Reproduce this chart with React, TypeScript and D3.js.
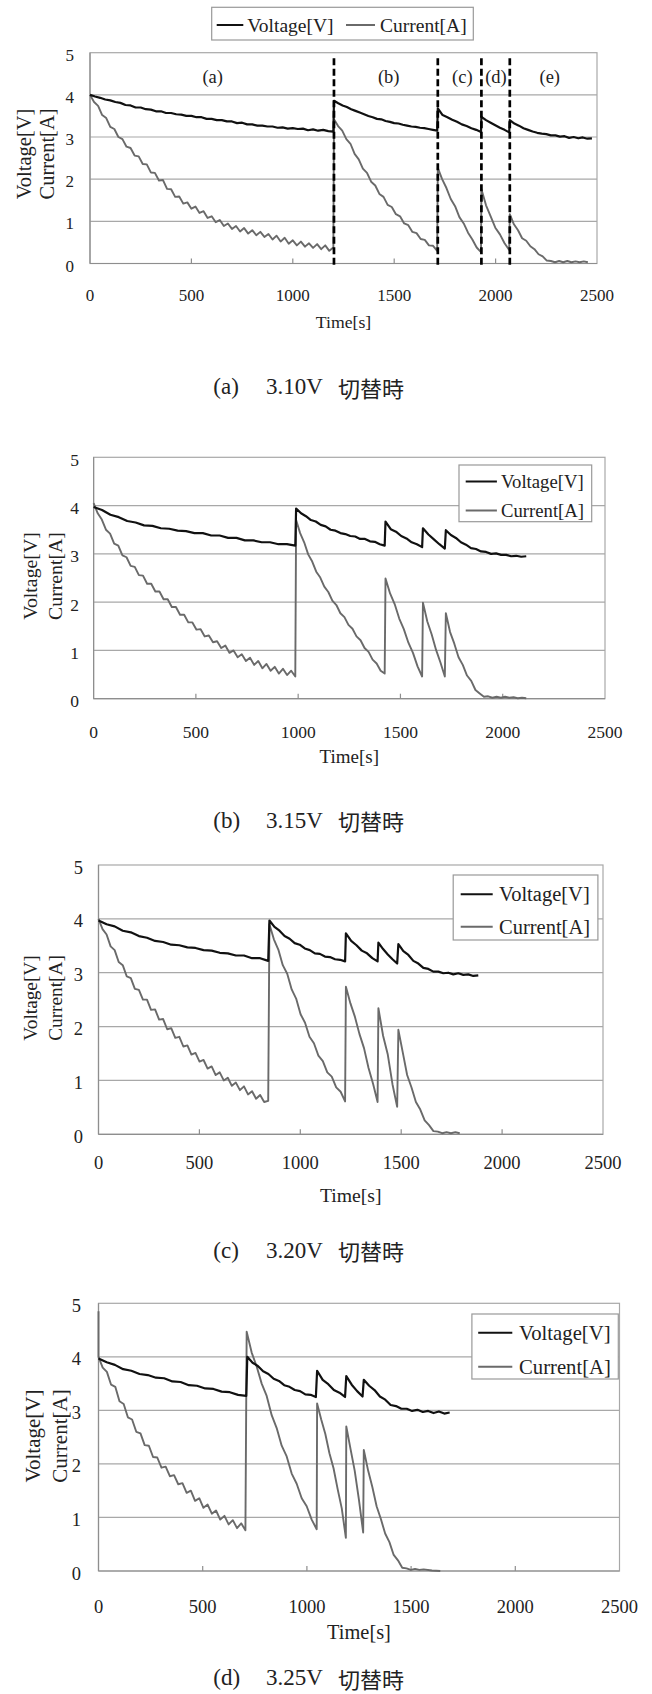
import React from "react";
import * as d3 from "d3";

type Seg = [number, number, number[]];

// ---------- common ----------
const X_TICKS = [0, 500, 1000, 1500, 2000, 2500];
const Y_TICKS = [0, 1, 2, 3, 4, 5];
const SERIES = ["Voltage[V]", "Current[A]"];
const X_TITLE = "Time[s]";
const Y_TITLE = ["Voltage[V]", "Current[A]"];
const CAPTION_TAGS = ["(a)", "(b)", "(c)", "(d)"];
const CAPTION_VOLTS = ["3.10V", "3.15V", "3.20V", "3.25V"];
const CAPTION_WORD = "切替時";

// ---------- panel (a) 3.10V ----------
const A_SWITCH = [1203, 1715, 1930, 2070];
const A_REGION_T = [605, 1473, 1836, 2002, 2267];
const A_REGION_LABELS = ["(a)", "(b)", "(c)", "(d)", "(e)"];
const A_VOLT: Seg[] = [
  [0, 1200, [4.0, 3.96, 3.93, 3.89, 3.87, 3.83, 3.81, 3.76, 3.75, 3.7, 3.7, 3.66, 3.65, 3.61, 3.61, 3.57, 3.57, 3.54, 3.53, 3.5, 3.5, 3.47, 3.47, 3.43, 3.43, 3.4, 3.4, 3.37, 3.37, 3.33, 3.34, 3.3, 3.3, 3.27, 3.27, 3.25, 3.25, 3.22, 3.23, 3.2, 3.21, 3.19, 3.2, 3.16, 3.18, 3.15, 3.17, 3.14, 3.13]],
  [1203, 1712, [3.86, 3.8, 3.75, 3.71, 3.66, 3.62, 3.58, 3.54, 3.5, 3.47, 3.43, 3.42, 3.38, 3.36, 3.33, 3.32, 3.29, 3.27, 3.25, 3.24, 3.22, 3.21, 3.19, 3.17, 3.15]],
  [1715, 1928, [3.68, 3.52, 3.47, 3.41, 3.36, 3.3, 3.26, 3.21, 3.17, 3.12]],
  [1930, 2067, [3.48, 3.4, 3.34, 3.28, 3.22, 3.17, 3.11]],
  [2070, 2475, [3.4, 3.32, 3.27, 3.21, 3.17, 3.13, 3.1, 3.08, 3.07, 3.04, 3.04, 3.01, 3.02, 2.98, 3.0, 2.97, 2.99, 2.96, 2.97]],
];
const A_CURR: Seg[] = [
  [0, 1200, [4.0, 3.83, 3.74, 3.52, 3.45, 3.24, 3.19, 3.0, 2.95, 2.77, 2.74, 2.56, 2.54, 2.36, 2.35, 2.16, 2.15, 1.97, 1.98, 1.77, 1.76, 1.58, 1.59, 1.42, 1.45, 1.3, 1.35, 1.2, 1.24, 1.08, 1.12, 0.98, 1.03, 0.89, 0.95, 0.82, 0.89, 0.76, 0.84, 0.71, 0.79, 0.67, 0.75, 0.63, 0.7, 0.57, 0.66, 0.52, 0.61, 0.47, 0.55, 0.43, 0.52, 0.4, 0.48, 0.37, 0.46, 0.34, 0.43, 0.3, 0.38]],
  [1203, 1712, [3.42, 3.26, 3.15, 2.95, 2.84, 2.6, 2.47, 2.25, 2.15, 1.94, 1.85, 1.65, 1.58, 1.39, 1.34, 1.17, 1.12, 0.95, 0.91, 0.75, 0.72, 0.58, 0.56, 0.43, 0.42, 0.3]],
  [1715, 1928, [2.27, 2.0, 1.79, 1.53, 1.36, 1.1, 0.95, 0.73, 0.57, 0.38, 0.27]],
  [1930, 2067, [1.76, 1.38, 1.12, 0.85, 0.69, 0.48, 0.32]],
  [2070, 2455, [1.17, 0.93, 0.79, 0.6, 0.54, 0.41, 0.34, 0.22, 0.17, 0.07, 0.06, 0.03, 0.06, 0.03, 0.06, 0.03, 0.05, 0.03, 0.05, 0.03]],
];

// ---------- panel (b) 3.15V ----------
const B_VOLT: Seg[] = [
  [0, 986, [3.97, 3.91, 3.81, 3.76, 3.68, 3.65, 3.59, 3.58, 3.53, 3.52, 3.48, 3.47, 3.43, 3.43, 3.38, 3.38, 3.33, 3.33, 3.28, 3.28, 3.24, 3.24, 3.2, 3.2, 3.17]],
  [990, 1423, [3.94, 3.84, 3.78, 3.7, 3.67, 3.6, 3.57, 3.5, 3.48, 3.43, 3.41, 3.37, 3.36, 3.31, 3.31, 3.26, 3.25, 3.2, 3.17]],
  [1427, 1606, [3.67, 3.51, 3.46, 3.37, 3.32, 3.24, 3.2, 3.14]],
  [1610, 1717, [3.53, 3.4, 3.3, 3.2, 3.11]],
  [1722, 2115, [3.49, 3.39, 3.33, 3.24, 3.19, 3.12, 3.1, 3.05, 3.04, 3.0, 3.01, 2.98, 2.98, 2.95, 2.96, 2.94, 2.95]],
];
const B_CURR: Seg[] = [
  [0, 986, [4.05, 3.84, 3.71, 3.5, 3.42, 3.21, 3.17, 2.97, 2.93, 2.75, 2.73, 2.56, 2.55, 2.38, 2.38, 2.22, 2.22, 2.06, 2.06, 1.9, 1.9, 1.74, 1.74, 1.58, 1.58, 1.43, 1.44, 1.29, 1.31, 1.17, 1.19, 1.05, 1.1, 0.95, 1.0, 0.86, 0.92, 0.78, 0.85, 0.7, 0.78, 0.63, 0.72, 0.58, 0.66, 0.52, 0.62, 0.49, 0.58, 0.46]],
  [990, 1423, [3.7, 3.43, 3.24, 2.99, 2.84, 2.63, 2.51, 2.32, 2.21, 2.03, 1.94, 1.77, 1.69, 1.53, 1.45, 1.29, 1.21, 1.05, 0.97, 0.81, 0.73, 0.58, 0.52]],
  [1427, 1606, [2.49, 2.18, 1.96, 1.66, 1.44, 1.16, 0.95, 0.67, 0.46]],
  [1610, 1717, [1.99, 1.6, 1.33, 1.01, 0.75, 0.46]],
  [1722, 2115, [1.77, 1.38, 1.14, 0.86, 0.7, 0.48, 0.37, 0.18, 0.11, 0.04, 0.05, 0.02, 0.04, 0.02, 0.04, 0.02, 0.03, 0.01, 0.02, 0.01]],
];

// ---------- panel (c) 3.20V ----------
const C_VOLT: Seg[] = [
  [0, 841, [3.97, 3.9, 3.86, 3.78, 3.75, 3.68, 3.65, 3.59, 3.57, 3.52, 3.51, 3.47, 3.46, 3.42, 3.41, 3.37, 3.36, 3.32, 3.32, 3.27, 3.27, 3.22]],
  [847, 1222, [3.97, 3.85, 3.78, 3.68, 3.63, 3.55, 3.52, 3.45, 3.42, 3.36, 3.35, 3.3, 3.29, 3.25, 3.24, 3.21]],
  [1226, 1383, [3.73, 3.59, 3.51, 3.41, 3.36, 3.27, 3.21]],
  [1387, 1480, [3.56, 3.44, 3.34, 3.25, 3.17]],
  [1486, 1882, [3.53, 3.4, 3.33, 3.22, 3.17, 3.09, 3.07, 3.02, 3.02, 2.99, 3.0, 2.97, 2.99, 2.96, 2.97, 2.94, 2.95]],
];
const C_CURR: Seg[] = [
  [0, 841, [4.0, 3.81, 3.71, 3.49, 3.42, 3.2, 3.14, 2.93, 2.9, 2.7, 2.68, 2.5, 2.5, 2.31, 2.32, 2.13, 2.14, 1.95, 1.97, 1.79, 1.81, 1.63, 1.65, 1.48, 1.51, 1.35, 1.38, 1.22, 1.26, 1.1, 1.15, 1.0, 1.05, 0.9, 0.96, 0.82, 0.89, 0.74, 0.8, 0.66, 0.73, 0.6, 0.62]],
  [847, 1222, [3.9, 3.62, 3.43, 3.14, 2.98, 2.69, 2.52, 2.23, 2.07, 1.81, 1.69, 1.46, 1.36, 1.15, 1.07, 0.87, 0.79, 0.61]],
  [1226, 1383, [2.74, 2.43, 2.18, 1.86, 1.6, 1.23, 0.94, 0.6]],
  [1387, 1480, [2.34, 1.83, 1.48, 0.93, 0.51]],
  [1486, 1790, [1.94, 1.52, 1.1, 0.87, 0.6, 0.46, 0.26, 0.17, 0.06, 0.05, 0.02, 0.04, 0.02, 0.04, 0.02]],
];

// ---------- panel (d) 3.25V ----------
const D_VOLT: Seg[] = [
  [0, 709, [3.97, 3.9, 3.85, 3.77, 3.74, 3.68, 3.66, 3.61, 3.6, 3.54, 3.53, 3.47, 3.46, 3.41, 3.4, 3.35, 3.34, 3.29, 3.27]],
  [714, 1043, [4.0, 3.89, 3.83, 3.73, 3.68, 3.59, 3.55, 3.47, 3.44, 3.38, 3.36, 3.3, 3.29, 3.25]],
  [1049, 1183, [3.74, 3.57, 3.49, 3.38, 3.33, 3.25]],
  [1189, 1267, [3.64, 3.48, 3.36, 3.26]],
  [1273, 1685, [3.57, 3.46, 3.38, 3.26, 3.2, 3.1, 3.08, 3.03, 3.03, 2.99, 3.01, 2.97, 2.99, 2.95, 2.98, 2.94, 2.96]],
];
const D_CURR: Seg[] = [
  [0, 0, [4.85]],
  [0, 705, [4.0, 3.8, 3.72, 3.48, 3.44, 3.17, 3.12, 2.87, 2.83, 2.6, 2.57, 2.35, 2.34, 2.13, 2.12, 1.93, 1.95, 1.77, 1.79, 1.62, 1.64, 1.46, 1.5, 1.31, 1.36, 1.18, 1.24, 1.07, 1.13, 0.96, 1.03, 0.87, 0.95, 0.8, 0.89, 0.76]],
  [711, 1047, [4.47, 4.08, 3.82, 3.5, 3.27, 2.91, 2.67, 2.34, 2.14, 1.82, 1.63, 1.36, 1.21, 0.96, 0.78]],
  [1049, 1187, [3.13, 2.83, 2.56, 2.2, 1.92, 1.53, 1.17, 0.62]],
  [1189, 1270, [2.7, 2.28, 1.87, 1.33, 0.72]],
  [1273, 1560, [2.26, 1.88, 1.57, 1.21, 0.97, 0.7, 0.54, 0.3, 0.2, 0.06, 0.05, 0.02, 0.04, 0.02, 0.03]],
  [1600, 1640, [0.01, 0.0]],
];

// ---------- layout ----------
const FONT = "'Liberation Serif', 'Times New Roman', serif";
const CJK = "'Noto Sans CJK JP', 'Noto Sans CJK SC', sans-serif";
const VOLT_COLOR = "#111";
const CURR_COLOR = "#6a6a6a";
const GRID = "#a8a8a8";
const AXIS = "#8e8e8e";

type LegendItem = { x1: number; x2: number; y: number; tx: number };
type Layout = {
  x0: number; x1: number; yTop: number; y0: number;
  tickFont: number; xTickY: number; yTickRight: number;
  titleFont: number; xTitleY: number;
  yTitleFont: number; yTitleX: [number, number]; yTitleY: number;
  box: [number, number, number, number]; items: LegendItem[]; legendFont: number;
  captionY: number;
};

const LAYOUTS: Layout[] = [
  { x0: 90, x1: 597, yTop: 52.7, y0: 263.5, tickFont: 17, xTickY: 295, yTickRight: 74,
    titleFont: 17.7, xTitleY: 321.7, yTitleFont: 20.5, yTitleX: [24, 47], yTitleY: 154,
    box: [211.7, 7.3, 261.6, 32.7],
    items: [{ x1: 216.7, x2: 243.3, y: 25, tx: 247.3 }, { x1: 346, x2: 375, y: 25, tx: 380 }],
    legendFont: 19.5, captionY: 386.7 },
  { x0: 93.6, x1: 605, yTop: 457.3, y0: 698.7, tickFont: 17.5, xTickY: 731.7, yTickRight: 79,
    titleFont: 19, xTitleY: 756.7, yTitleFont: 19.8, yTitleX: [30, 55], yTitleY: 576,
    box: [459, 465, 132.7, 56.7],
    items: [{ x1: 465.7, x2: 496.9, y: 481.5, tx: 501 }, { x1: 465.7, x2: 496.9, y: 510.5, tx: 501 }],
    legendFont: 18.7, captionY: 820 },
  { x0: 98.5, x1: 603, yTop: 865, y0: 1134.3, tickFont: 18.5, xTickY: 1163.3, yTickRight: 83,
    titleFont: 19.7, xTitleY: 1195, yTitleFont: 19.3, yTitleX: [30, 55], yTitleY: 998,
    box: [453.2, 875, 144.7, 65],
    items: [{ x1: 460.7, x2: 492.7, y: 894.3, tx: 499 }, { x1: 460.7, x2: 492.7, y: 926.7, tx: 499 }],
    legendFont: 20.5, captionY: 1250 },
  { x0: 98.5, x1: 619.5, yTop: 1303.3, y0: 1571, tickFont: 18.5, xTickY: 1606.7, yTickRight: 81,
    titleFont: 20.4, xTitleY: 1631.7, yTitleFont: 21, yTitleX: [33, 60], yTitleY: 1436,
    box: [471.9, 1314, 146.4, 65],
    items: [{ x1: 478.2, x2: 512.3, y: 1332.7, tx: 519 }, { x1: 478.2, x2: 512.3, y: 1366.7, tx: 519 }],
    legendFont: 20.7, captionY: 1677.5 },
];

const PANEL_DATA: { volt: Seg[]; curr: Seg[] }[] = [
  { volt: A_VOLT, curr: A_CURR },
  { volt: B_VOLT, curr: B_CURR },
  { volt: C_VOLT, curr: C_CURR },
  { volt: D_VOLT, curr: D_CURR },
];

function expand(segs: Seg[]): [number, number][] {
  const pts: [number, number][] = [];
  segs.forEach(([t0, t1, vals]) => {
    const n = vals.length;
    vals.forEach((v, i) => pts.push([n > 1 ? t0 + (i * (t1 - t0)) / (n - 1) : t0, v]));
  });
  return pts;
}

function Panel({ idx }: { idx: number }) {
  const L = LAYOUTS[idx];
  const data = PANEL_DATA[idx];
  const x = d3.scaleLinear().domain([0, 2500]).range([L.x0, L.x1]);
  const y = d3.scaleLinear().domain([0, 5]).range([L.y0, L.yTop]);
  const line = d3.line<[number, number]>().x((d) => x(d[0])).y((d) => y(d[1]));
  const voltPath = line(expand(data.volt)) || "";
  const currPath = line(expand(data.curr)) || "";
  const colors = [VOLT_COLOR, CURR_COLOR];
  const capX = [213.3, 266, 338];

  return (
    <g>
      <rect x={L.x0} y={L.yTop} width={L.x1 - L.x0} height={L.y0 - L.yTop} fill="#fff" stroke={GRID} strokeWidth={1.2} />
      {Y_TICKS.filter((v) => v > 0 && v < 5).map((v) => (
        <line key={"g" + v} x1={L.x0} x2={L.x1} y1={y(v)} y2={y(v)} stroke={GRID} strokeWidth={1.2} />
      ))}
      <line x1={L.x0} x2={L.x0} y1={L.yTop} y2={L.y0} stroke={AXIS} strokeWidth={1.2} />
      <line x1={L.x0} x2={L.x1} y1={L.y0} y2={L.y0} stroke={AXIS} strokeWidth={1.2} />
      {X_TICKS.filter((t) => t > 0 && t < 2500).map((t) => (
        <line key={"xt" + t} x1={x(t)} x2={x(t)} y1={L.y0} y2={L.y0 - 5} stroke={AXIS} strokeWidth={1.2} />
      ))}
      {X_TICKS.map((t) => (
        <text key={"xl" + t} x={x(t)} y={L.xTickY} fontSize={L.tickFont} fontFamily={FONT} textAnchor="middle" dominantBaseline="central" fill="#222">
          {t}
        </text>
      ))}
      {Y_TICKS.map((v) => (
        <text key={"yl" + v} x={L.yTickRight} y={y(v) + 2.5} fontSize={L.tickFont} fontFamily={FONT} textAnchor="end" dominantBaseline="central" fill="#222">
          {v}
        </text>
      ))}
      <path d={currPath} fill="none" stroke={CURR_COLOR} strokeWidth={1.9} strokeLinejoin="round" />
      <path d={voltPath} fill="none" stroke={VOLT_COLOR} strokeWidth={2.2} strokeLinejoin="round" />
      {idx === 0 &&
        A_SWITCH.map((t) => (
          <line key={"sw" + t} x1={x(t)} x2={x(t)} y1={L.yTop + 5.5} y2={L.y0 + 2} stroke="#000" strokeWidth={2.7} strokeDasharray="7 3.5" />
        ))}
      {idx === 0 &&
        A_REGION_T.map((t, i) => (
          <text key={"rg" + i} x={x(t)} y={76.7} fontSize={18.5} fontFamily={FONT} textAnchor="middle" dominantBaseline="central" fill="#222">
            {A_REGION_LABELS[i]}
          </text>
        ))}
      <rect x={L.box[0]} y={L.box[1]} width={L.box[2]} height={L.box[3]} fill="#fff" stroke="#999" strokeWidth={1.2} />
      {L.items.map((it, i) => (
        <g key={"lg" + i}>
          <line x1={it.x1} x2={it.x2} y1={it.y} y2={it.y} stroke={colors[i]} strokeWidth={2} />
          <text x={it.tx} y={it.y} fontSize={L.legendFont} fontFamily={FONT} dominantBaseline="central" fill="#222">
            {SERIES[i]}
          </text>
        </g>
      ))}
      <text x={(L.x0 + L.x1) / 2} y={L.xTitleY} fontSize={L.titleFont} fontFamily={FONT} textAnchor="middle" dominantBaseline="central" fill="#222">
        {X_TITLE}
      </text>
      {Y_TITLE.map((s, i) => (
        <text key={"yt" + i} transform={`translate(${L.yTitleX[i]},${L.yTitleY}) rotate(-90)`} fontSize={L.yTitleFont} fontFamily={FONT} textAnchor="middle" dominantBaseline="central" fill="#222">
          {s}
        </text>
      ))}
      <text x={capX[0]} y={L.captionY} fontSize={23} fontFamily={FONT} dominantBaseline="central" fill="#222">
        {CAPTION_TAGS[idx]}
      </text>
      <text x={capX[1]} y={L.captionY} fontSize={23} fontFamily={FONT} dominantBaseline="central" fill="#222">
        {CAPTION_VOLTS[idx]}
      </text>
      <text x={capX[2]} y={L.captionY} fontSize={22} fontFamily={CJK} dominantBaseline="central" fill="#222">
        {CAPTION_WORD}
      </text>
    </g>
  );
}

export default function App() {
  return (
    <svg width={652} height={1694} viewBox="0 0 652 1694" style={{ position: "absolute", left: 0, top: 0, display: "block", background: "#fff" }}>
      <rect x={0} y={0} width={652} height={1694} fill="#fff" />
      {LAYOUTS.map((_, i) => (
        <Panel key={i} idx={i} />
      ))}
    </svg>
  );
}
